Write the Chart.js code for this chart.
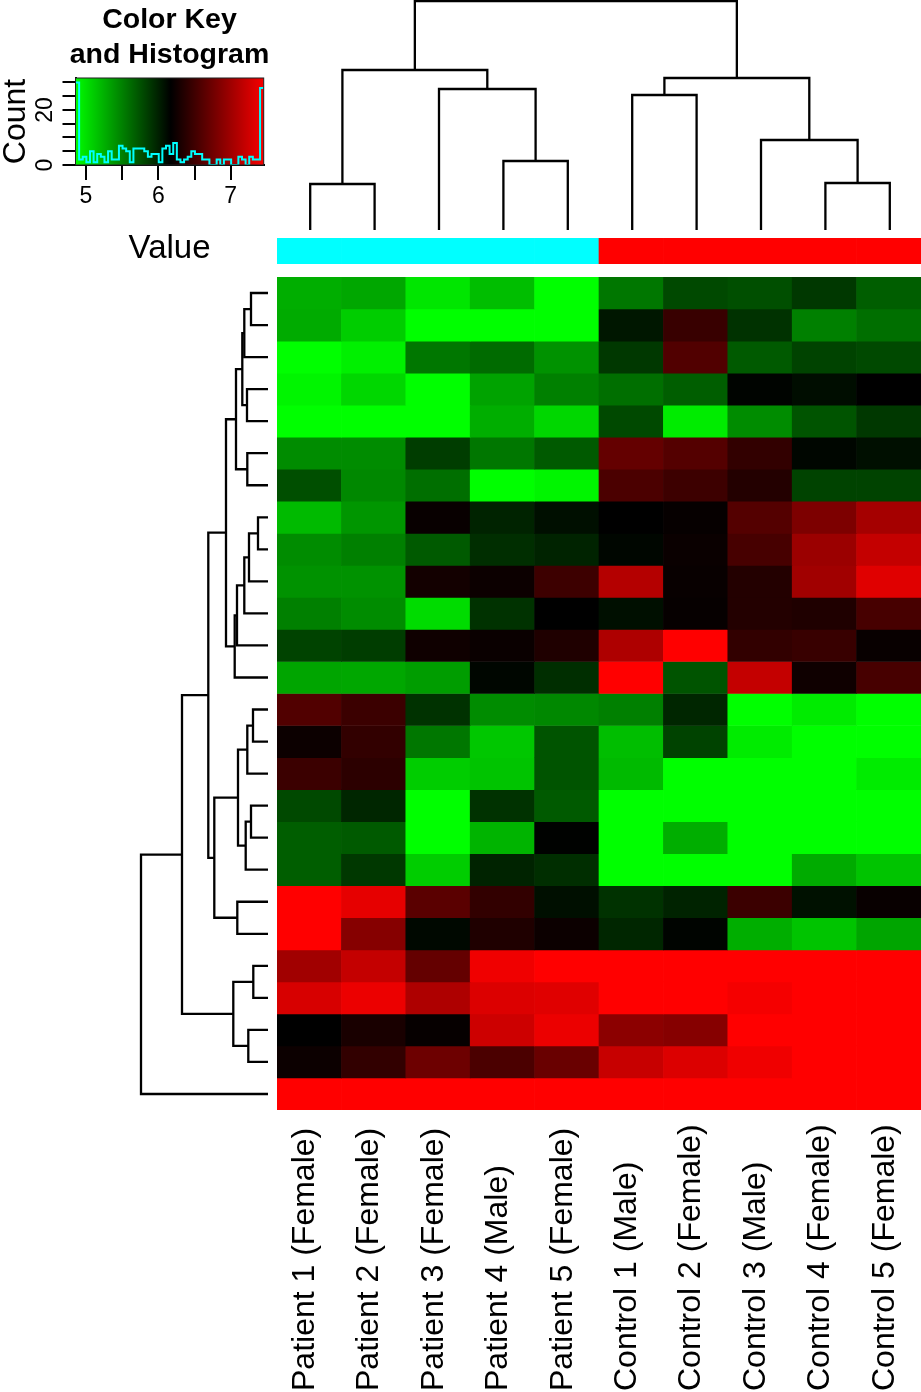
<!DOCTYPE html>
<html>
<head>
<meta charset="utf-8">
<title>Heatmap with dendrograms</title>
<script src="https://cdn.jsdelivr.net/npm/chart.js@4"></script>
<style>
  html, body { margin: 0; padding: 0; background: white; overflow: hidden; }
  #page { position: relative; width: 921px; height: 1392px; overflow: hidden; }
  canvas { position: absolute; }
</style>
</head>
<body>
<div id="page">
  <canvas id="key" width="339" height="270" style="left:0;top:0"></canvas>
  <canvas id="colTree" width="644" height="230" style="left:278px;top:0"></canvas>
  <canvas id="side" width="644" height="26" style="left:277px;top:238px"></canvas>
  <canvas id="rowTree" width="138" height="833" style="left:130px;top:277px"></canvas>
  <canvas id="heat" width="644" height="833" style="left:277px;top:277px"></canvas>
  <canvas id="names" width="644" height="272" style="left:288px;top:1121px"></canvas>
</div>

<script>
const sampleNames = ["Patient 1 (Female)", "Patient 2 (Female)", "Patient 3 (Female)", "Patient 4 (Male)", "Patient 5 (Female)",
  "Control 1 (Male)", "Control 2 (Female)", "Control 3 (Male)", "Control 4 (Female)", "Control 5 (Female)"];
const sideColors = ["#00FFFF", "#00FFFF", "#00FFFF", "#00FFFF", "#00FFFF", "#FF0000", "#FF0000", "#FF0000", "#FF0000", "#FF0000"];

// one line per gene, same order as sampleNames
const heatRows = [
  [5.26, 5.30, 4.97, 5.18, 4.84, 5.55, 5.79, 5.76, 5.88, 5.68],
  [5.28, 5.10, 4.84, 4.84, 4.84, 6.05, 6.46, 5.91, 5.50, 5.59],
  [4.84, 4.92, 5.55, 5.61, 5.41, 5.88, 6.59, 5.70, 5.82, 5.79],
  [4.89, 5.05, 4.84, 5.32, 5.50, 5.59, 5.68, 6.15, 6.10, 6.17],
  [4.84, 4.84, 4.84, 5.26, 5.05, 5.79, 4.94, 5.44, 5.73, 5.88],
  [5.44, 5.44, 5.85, 5.55, 5.70, 6.69, 6.61, 6.43, 6.14, 6.09],
  [5.76, 5.46, 5.59, 4.84, 4.89, 6.56, 6.49, 6.35, 5.82, 5.82],
  [5.20, 5.39, 6.21, 5.99, 6.09, 6.17, 6.20, 6.61, 6.82, 7.03],
  [5.44, 5.50, 5.70, 5.93, 5.99, 6.14, 6.22, 6.54, 6.98, 7.19],
  [5.41, 5.41, 6.27, 6.23, 6.49, 7.11, 6.21, 6.35, 7.01, 7.34],
  [5.50, 5.44, 5.02, 5.91, 6.17, 6.09, 6.20, 6.35, 6.33, 6.54],
  [5.82, 5.85, 6.25, 6.22, 6.33, 7.08, 7.50, 6.43, 6.46, 6.21],
  [5.31, 5.30, 5.35, 6.14, 5.93, 7.50, 5.73, 7.19, 6.25, 6.54],
  [6.59, 6.48, 5.91, 5.44, 5.46, 5.50, 5.97, 4.84, 4.94, 4.84],
  [6.23, 6.43, 5.55, 5.13, 5.73, 5.18, 5.82, 4.94, 4.84, 4.84],
  [6.48, 6.40, 5.10, 5.15, 5.73, 5.20, 4.84, 4.84, 4.84, 4.94],
  [5.79, 5.97, 4.84, 5.91, 5.70, 4.84, 4.84, 4.84, 4.84, 4.84],
  [5.68, 5.70, 4.84, 5.23, 6.16, 4.84, 5.26, 4.84, 4.84, 4.84],
  [5.68, 5.88, 5.10, 5.99, 5.93, 4.84, 4.84, 4.84, 5.28, 5.15],
  [7.50, 7.37, 6.64, 6.43, 6.09, 5.91, 5.99, 6.48, 6.08, 6.21],
  [7.50, 6.87, 6.13, 6.33, 6.23, 5.97, 6.15, 5.26, 5.15, 5.31],
  [7.01, 7.19, 6.69, 7.42, 7.50, 7.50, 7.50, 7.50, 7.50, 7.50],
  [7.29, 7.40, 7.08, 7.32, 7.34, 7.50, 7.50, 7.45, 7.50, 7.50],
  [6.17, 6.30, 6.20, 7.24, 7.40, 6.90, 6.87, 7.50, 7.50, 7.50],
  [6.23, 6.43, 6.74, 6.56, 6.72, 7.21, 7.32, 7.42, 7.50, 7.50],
  [7.50, 7.50, 7.50, 7.50, 7.50, 7.50, 7.50, 7.50, 7.50, 7.50]
];

// colour key
const keyLow = 4.84, keyMid = 6.17, keyHigh = 7.5;
const histStart = 4.855, histBin = 0.05;
const histCounts = [30, 2, 3, 1, 5, 1, 4, 3, 1, 5, 2, 2, 7, 6, 5, 1, 6, 6, 6, 5, 3, 4, 4, 1, 6, 7, 4, 8, 2, 1, 2, 3, 5, 4, 4, 2, 2, 0, 0, 2, 0, 2, 2, 0, 0, 3, 2, 0, 3, 2, 2, 28];

// column dendrogram: [left pos, right pos, height, left child height, right child height]
const colMerges = [
  [0, 1, 46, 0, 0],
  [3, 4, 69, 0, 0],
  [2, 3.5, 141, 0, 69],
  [0.5, 2.75, 160, 46, 141],
  [8, 9, 47, 0, 0],
  [7, 8.5, 90, 0, 47],
  [5, 6, 135, 0, 0],
  [5.5, 7.75, 152, 135, 90],
  [1.625, 6.625, 229, 160, 152]
];

// row dendrogram, same layout
const rowMerges = [
  [0, 1, 17, 0, 0],
  [0.5, 2, 23.7, 17, 0],
  [3, 4, 21, 0, 0],
  [1.25, 3.5, 25.7, 23.7, 21],
  [5, 6, 20.7, 0, 0],
  [2.375, 5.5, 32, 25.7, 20.7],
  [7, 8, 10, 0, 0],
  [7.5, 9, 19, 10, 0],
  [8.25, 10, 23.7, 19, 0],
  [9.125, 11, 31, 23.7, 0],
  [10.06, 12, 33.3, 31, 0],
  [3.94, 11.03, 42, 32, 33.3],
  [13, 14, 15, 0, 0],
  [13.5, 15, 20.7, 15, 0],
  [16, 17, 17, 0, 0],
  [16.5, 18, 22.3, 17, 0],
  [14.25, 17.25, 30, 20.7, 22.3],
  [19, 20, 30.7, 0, 0],
  [15.75, 19.5, 53.7, 30, 30.7],
  [7.48, 17.63, 59.7, 42, 53.7],
  [21, 22, 14.7, 0, 0],
  [23, 24, 19.7, 0, 0],
  [21.5, 23.5, 34.7, 14.7, 19.7],
  [12.55, 22.5, 86, 59.7, 34.7],
  [17.53, 25, 127, 86, 0]
];

const fontName = "'Liberation Sans', Arial, sans-serif";
Chart.defaults.font.family = fontName;
Chart.defaults.color = "#000";
Chart.defaults.animation = false;
Chart.defaults.responsive = false;
Chart.defaults.plugins.legend.display = false;
Chart.defaults.plugins.tooltip.enabled = false;

function heatColor(v) {
  if (v < keyMid) return "rgb(0," + Math.round(255 * Math.min(1, (keyMid - v) / (keyMid - keyLow))) + ",0)";
  return "rgb(" + Math.round(255 * Math.min(1, (v - keyMid) / (keyHigh - keyMid))) + ",0,0)";
}

// heatmap body: stacked bars, one dataset per gene
new Chart(document.getElementById("heat"), {
  type: "bar",
  data: {
    labels: sampleNames,
    datasets: heatRows.map(row => ({
      data: row.map(() => 1),
      backgroundColor: row.map(heatColor),
      barPercentage: 1,
      categoryPercentage: 1
    }))
  },
  options: {
    scales: {
      x: { display: false, stacked: true },
      y: { display: false, stacked: true, reverse: true, min: 0, max: heatRows.length }
    }
  }
});

// group colour strip
new Chart(document.getElementById("side"), {
  type: "bar",
  data: {
    labels: sampleNames,
    datasets: [{ data: sampleNames.map(() => 1), backgroundColor: sideColors, barPercentage: 1, categoryPercentage: 1 }]
  },
  options: {
    scales: { x: { display: false }, y: { display: false, min: 0, max: 1 } }
  }
});

// sample names: a top axis writes rotated labels from its far side, so they start at the page bottom
new Chart(document.getElementById("names"), {
  type: "bar",
  data: { labels: sampleNames, datasets: [{ data: [] }] },
  options: {
    scales: {
      x: {
        position: "top",
        grid: { display: false, drawTicks: false },
        border: { display: false },
        ticks: { autoSkip: false, minRotation: 90, maxRotation: 90, padding: 1, font: { size: 32, lineHeight: 0.47 } },
        afterFit: s => { s.height = 271; }
      },
      y: { display: false }
    }
  }
});

function bracketLines(m, horizontal) {
  const pts = [[m[0], m[3]], [m[0], m[2]], [m[1], m[2]], [m[1], m[4]]];
  return {
    data: pts.map(p => horizontal ? { x: p[1], y: p[0] } : { x: p[0], y: p[1] }),
    showLine: true,
    borderColor: "#000",
    borderWidth: 2.3,
    borderJoinStyle: "miter",
    pointRadius: 0
  };
}

new Chart(document.getElementById("colTree"), {
  type: "scatter",
  data: { datasets: colMerges.map(m => bracketLines(m, false)) },
  options: {
    scales: {
      x: { display: false, min: -0.5, max: 9.5 },
      y: { display: false, min: 0, max: 230 }
    }
  }
});

new Chart(document.getElementById("rowTree"), {
  type: "scatter",
  data: { datasets: rowMerges.map(m => bracketLines(m, true)) },
  options: {
    scales: {
      x: { display: false, reverse: true, min: 0, max: 138 },
      y: { display: false, reverse: true, min: -0.5, max: 25.5 }
    }
  }
});

// colour key with histogram
const keyBackground = {
  id: "keyBackground",
  beforeDatasetsDraw(chart) {
    const { ctx, chartArea: a, scales: { x } } = chart;
    const g = ctx.createLinearGradient(x.getPixelForValue(keyLow), 0, x.getPixelForValue(keyHigh), 0);
    g.addColorStop(0, "#00FF00");
    g.addColorStop(0.5, "#000000");
    g.addColorStop(1, "#FF0000");
    ctx.save();
    ctx.fillStyle = g;
    ctx.fillRect(a.left, a.top, a.width, a.height);
    ctx.restore();
  },
  afterDraw(chart) {
    const { ctx, chartArea: a } = chart;
    ctx.save();
    ctx.strokeStyle = "#222";
    ctx.lineWidth = 1;
    ctx.strokeRect(a.left, a.top, a.width, a.height);
    ctx.restore();
  }
};

const histPoints = histCounts.map((c, i) => ({ x: histStart + i * histBin, y: c }));
histPoints.push({ x: histStart + histCounts.length * histBin, y: histCounts[histCounts.length - 1] });

new Chart(document.getElementById("key"), {
  type: "scatter",
  data: {
    datasets: [{
      data: histPoints,
      showLine: true,
      stepped: true,
      borderColor: "#00FFFF",
      borderWidth: 2,
      pointRadius: 0
    }]
  },
  options: {
    plugins: {
      title: {
        display: true,
        text: ["Color Key", "and Histogram"],
        font: { size: 28.5, weight: "bold", lineHeight: 1.228 },
        padding: { top: 3, bottom: 5 }
      }
    },
    scales: {
      x: {
        min: histStart,
        max: histStart + histCounts.length * histBin,
        grid: { drawOnChartArea: false, tickLength: 15, color: "#000", lineWidth: 2 },
        border: { color: "#000", width: 2 },
        ticks: {
          stepSize: 0.5,
          includeBounds: false,
          autoSkip: false,
          maxRotation: 0,
          padding: 3,
          font: { size: 23 },
          callback: v => Number.isInteger(v) ? v : ""
        },
        title: { display: true, text: "Value", font: { size: 33 }, padding: { top: 0, bottom: 1 } },
        afterFit: s => { s.height = 105; }
      },
      y: {
        min: 0,
        max: 31.6,
        grid: { drawOnChartArea: false, tickLength: 13, color: "#000", lineWidth: 2 },
        border: { color: "#000", width: 2 },
        ticks: {
          stepSize: 5,
          includeBounds: false,
          autoSkip: false,
          minRotation: 90,
          maxRotation: 90,
          crossAlign: "center",
          padding: 4,
          font: { size: 23 },
          callback: v => (v === 0 || v === 20) ? v : ""
        },
        title: { display: true, text: "Count", font: { size: 32, lineHeight: 1 }, padding: { top: 0, bottom: 0 } },
        afterFit: s => { s.width = 75.5; }
      },
      // empty right axis keeps the plot at its width while the title centres over the whole canvas
      spacer: {
        type: "linear",
        position: "right",
        grid: { display: false },
        border: { display: false },
        ticks: { display: false },
        afterFit: s => { s.width = 75.3; }
      }
    }
  },
  plugins: [keyBackground]
});
</script>
</body>
</html>
